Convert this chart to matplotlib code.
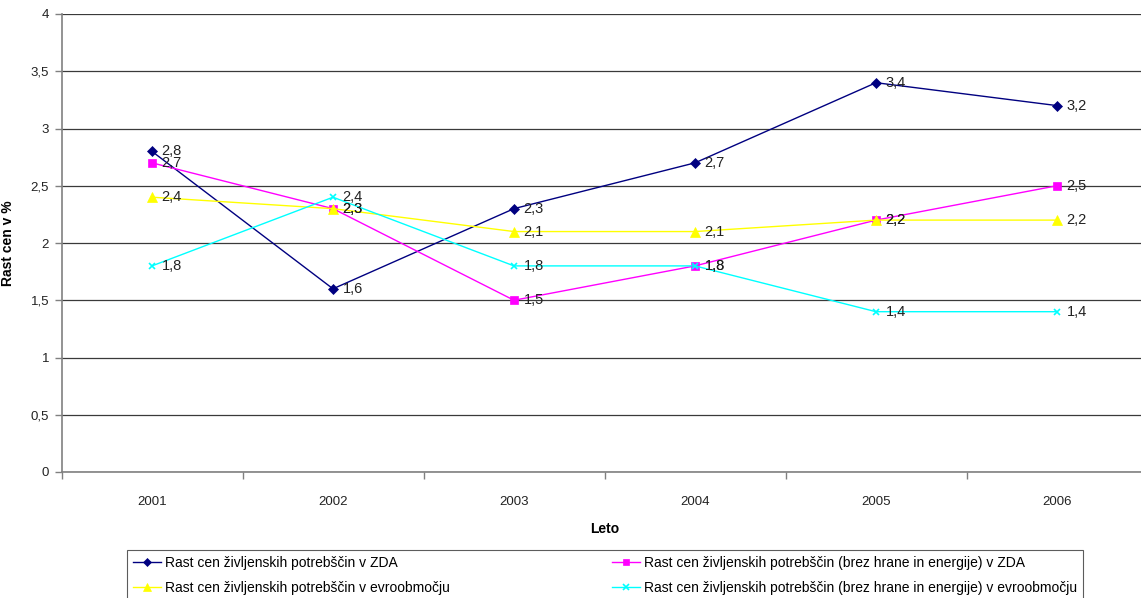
import matplotlib
matplotlib.use("Agg")
import matplotlib.pyplot as plt
from matplotlib.ticker import FixedLocator, FuncFormatter

plt.rcParams['font.family'] = ['Liberation Sans', 'DejaVu Sans']

years = ["2001", "2002", "2003", "2004", "2005", "2006"]
zda = [2.8, 1.6, 2.3, 2.7, 3.4, 3.2]
zda_core = [2.7, 2.3, 1.5, 1.8, 2.2, 2.5]
euro = [2.4, 2.3, 2.1, 2.1, 2.2, 2.2]
euro_core = [1.8, 2.4, 1.8, 1.8, 1.4, 1.4]

series = [
    ("Rast cen življenskih potrebščin v ZDA", zda, "#000080", "D", 5),
    ("Rast cen življenskih potrebščin (brez hrane in energije) v ZDA", zda_core, "#FF00FF", "s", 6),
    ("Rast cen življenskih potrebščin v evroobmočju", euro, "#FFFF00", "^", 6.5),
    ("Rast cen življenskih potrebščin (brez hrane in energije) v evroobmočju", euro_core, "#00FFFF", "x", 5),
]

fig = plt.figure(figsize=(11.41, 5.98), dpi=100)
ax = fig.add_axes([61.5 / 1141, 1 - 472 / 598, 1086 / 1141, 458 / 598])

x = list(range(len(years)))
handles = {}
for name, vals, col, mk, ms in series:
    h, = ax.plot(x, vals, color=col, marker=mk, markersize=ms, linewidth=1,
                 markeredgewidth=1.2 if mk == "x" else 0.5, markeredgecolor=col,
                 label=name, zorder=3)
    handles[name] = h
    for xi, v in zip(x, vals):
        ax.annotate(f"{v:.1f}".replace(".", ","), (xi, v), xytext=(7, 0),
                    textcoords="offset points", ha="left", va="center",
                    fontsize=10.5, color="#222222", zorder=4)

ax.set_xlim(-0.5, len(years) - 0.5)
ax.set_ylim(0, 4)
ax.set_yticks([i * 0.5 for i in range(9)])
ax.yaxis.set_major_formatter(FuncFormatter(lambda v, p: f"{v:g}".replace(".", ",")))
ax.yaxis.grid(True, color="#3a3a3a", linewidth=0.9)
ax.set_axisbelow(True)

ax.set_xticks(x)
ax.set_xticklabels(years)
ax.xaxis.set_minor_locator(FixedLocator([i - 0.5 for i in range(len(years) + 1)]))
ax.tick_params(axis="x", which="major", length=0, pad=17, labelsize=9.5, colors="#222222")
ax.tick_params(axis="x", which="minor", length=5, width=1, color="#808080", direction="out")
ax.tick_params(axis="y", length=5, width=1, color="#808080", labelsize=9.5, labelcolor="#222222", pad=4)

for s in ["top", "right"]:
    ax.spines[s].set_visible(False)
for s in ["left", "bottom"]:
    ax.spines[s].set_color("#808080")
    ax.spines[s].set_linewidth(1.2)

ax.set_xlabel("Leto", fontweight="bold", fontsize=10)
ax.xaxis.set_label_coords(0.5, -(522 - 472) / 458)
ax.set_ylabel("Rast cen v %", fontweight="bold", fontsize=10)
ax.yaxis.set_label_coords(-(61.5 - 15) / 1086, 0.5)

order = [series[0][0], series[2][0], series[1][0], series[3][0]]
leg = fig.legend([handles[n] for n in order], order, ncol=2,
                 loc="upper left", bbox_to_anchor=(127 / 1141, 1 - 550 / 598),
                 frameon=True, fancybox=False, edgecolor="#333333",
                 fontsize=10, handlelength=2.0, handletextpad=0.3,
                 columnspacing=11.65, labelspacing=0.75, borderpad=0.45,
                 borderaxespad=0, markerscale=0.8)
leg.get_frame().set_linewidth(0.8)

fig.savefig("out.png", dpi=100)
